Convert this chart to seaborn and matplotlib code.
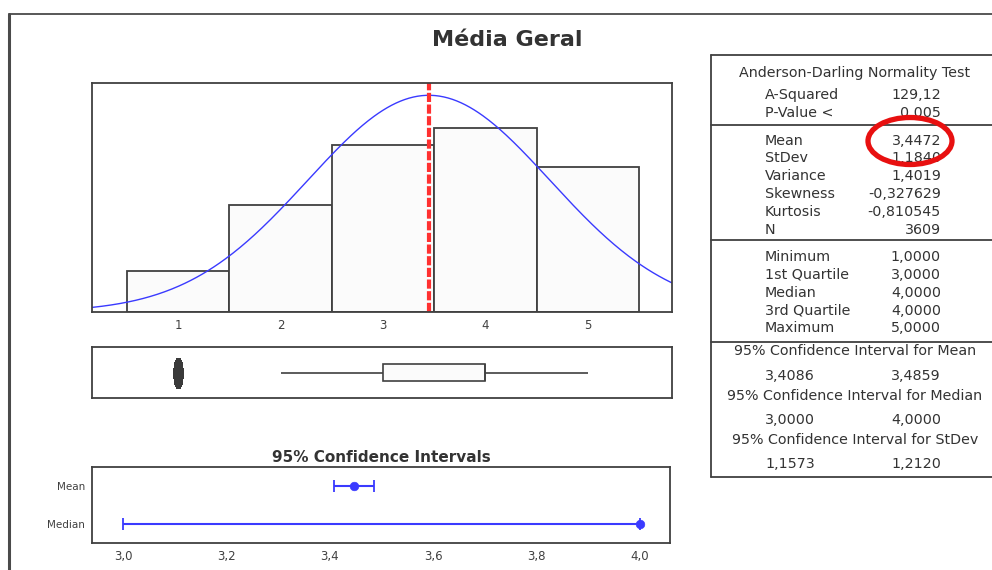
import numpy as np
import matplotlib
matplotlib.use("Agg")
import matplotlib.pyplot as plt
import seaborn as sns
from matplotlib.lines import Line2D
from matplotlib.patches import Ellipse
from matplotlib.path import Path

# ---------------- data ----------------
title = "Média Geral"
response_values = [1, 2, 3, 4, 5]
response_counts = [228, 598, 936, 1032, 815]
bin_edges = [0.5, 1.5, 2.5, 3.5, 4.5, 5.5]
hist_ticks = [1, 2, 3, 4, 5]
hist_tick_labels = ["1", "2", "3", "4", "5"]
mean_value = 3.4472
stdev_value = 1.1840
n_value = 3609

ci_title = "95% Confidence Intervals"
ci_labels = ["Mean", "Median"]
ci_centers = [3.4472, 4.0]
ci_lows = [3.4086, 3.0]
ci_highs = [3.4859, 4.0]
ci_ticks = [3.0, 3.2, 3.4, 3.6, 3.8, 4.0]
ci_tick_labels = ["3,0", "3,2", "3,4", "3,6", "3,8", "4,0"]

test_header = "Anderson-Darling Normality Test"
test_rows = [("A-Squared", "129,12"), ("P-Value <", "0,005")]
desc_rows = [("Mean", "3,4472"), ("StDev", "1,1840"), ("Variance", "1,4019"),
             ("Skewness", "-0,327629"), ("Kurtosis", "-0,810545"), ("N", "3609")]
quart_rows = [("Minimum", "1,0000"), ("1st Quartile", "3,0000"), ("Median", "4,0000"),
              ("3rd Quartile", "4,0000"), ("Maximum", "5,0000")]
ci_sections = [("95% Confidence Interval for Mean", "3,4086", "3,4859"),
               ("95% Confidence Interval for Median", "3,0000", "4,0000"),
               ("95% Confidence Interval for StDev", "1,1573", "1,2120")]

# ---------------- style ----------------
sns.set_theme(style="white")
plt.rcParams["font.family"] = ["DejaVu Sans"]
DARK = "#404040"
TXT = "#333333"
BLUE = "#3a3aff"

W, H = 992, 570
fig = plt.figure(figsize=(W / 100, H / 100), dpi=100)
fig.patch.set_facecolor("white")


def fx(px):
    return px / W


def fy(py):
    return 1 - py / H


def rect(l, t, r, b):
    return [l / W, 1 - b / H, (r - l) / W, (b - t) / H]


def style_axes(ax):
    for s in ax.spines.values():
        s.set_color(DARK)
        s.set_linewidth(1.3)
        s.set_visible(True)
    ax.tick_params(axis="both", direction="out", length=3, width=1,
                   color=DARK, labelcolor=DARK, labelsize=8.5, pad=2)
    ax.set_facecolor("white")


# ---------------- histogram ----------------
xlo, xhi = 0.16, 5.82
ax = fig.add_axes(rect(92, 83, 672, 312))
sns.histplot(x=response_values, weights=response_counts, bins=bin_edges, ax=ax,
             color="#fbfbfb", edgecolor=DARK, linewidth=1.3, alpha=1)
xs = np.linspace(xlo, xhi, 400)
ys = n_value * 1.0 / (stdev_value * np.sqrt(2 * np.pi)) * np.exp(-0.5 * ((xs - mean_value) / stdev_value) ** 2)
sns.lineplot(x=xs, y=ys, ax=ax, color=BLUE, linewidth=1.0)
ax.axvline(mean_value, color="#ff3030", linewidth=3.0, linestyle=(0, (2.2, 0.6)))
ax.set_xlim(xlo, xhi)
ax.set_ylim(0, 1285)
ax.set_xticks(hist_ticks)
ax.set_xticklabels(hist_tick_labels)
ax.set_yticks([])
ax.set_xlabel("")
ax.set_ylabel("")
style_axes(ax)

# ---------------- boxplot ----------------
axb = fig.add_axes(rect(92, 347, 672, 398))
data = np.repeat(response_values, response_counts)
t = np.linspace(0, 2 * np.pi, 60)
ell_marker = Path(np.column_stack([0.28 * np.cos(t), np.sin(t)]), closed=True)
sns.boxplot(x=data, ax=axb, width=0.33, color="#fbfbfb", linecolor=DARK, linewidth=1.2,
            showcaps=False,
            flierprops=dict(marker=ell_marker, markersize=21, markerfacecolor="#3a3a3a",
                            markeredgecolor="#3a3a3a"))
axb.set_xlim(xlo, xhi)
axb.set_ylim(0.5, -0.5)
axb.set_xticks([])
axb.set_yticks([])
axb.set_xlabel("")
style_axes(axb)

# ---------------- confidence intervals ----------------
axc = fig.add_axes(rect(92, 467, 670, 543))
ypos = list(range(len(ci_labels)))
xerr = [[c - l for c, l in zip(ci_centers, ci_lows)], [h - c for c, h in zip(ci_centers, ci_highs)]]
axc.errorbar(ci_centers, ypos, xerr=xerr, fmt="none", ecolor=BLUE, elinewidth=1.5,
             capsize=4, capthick=1.3)
sns.scatterplot(x=ci_centers, y=ypos, ax=axc, color=BLUE, s=38, edgecolor=BLUE, zorder=5)
axc.set_xlim(2.94, 4.058)
axc.set_ylim(1.5, -0.5)
axc.set_xticks(ci_ticks)
axc.set_xticklabels(ci_tick_labels)
axc.set_yticks(ypos)
axc.set_yticklabels(ci_labels)
axc.set_xlabel("")
axc.set_ylabel("")
style_axes(axc)
axc.tick_params(axis="y", labelsize=7.5)
fig.text(fx(381), fy(457), ci_title, ha="center", va="center", fontsize=11,
         fontweight="bold", color=TXT)

# ---------------- title ----------------
fig.text(fx(507), fy(40), title, ha="center", va="center", fontsize=16,
         fontweight="bold", color=TXT)

# ---------------- outer frame ----------------
fig.add_artist(Line2D([fx(9), fx(9)], [fy(14), fy(570)], color="#4a4a4a", linewidth=2.2))
fig.add_artist(Line2D([fx(9), fx(992)], [fy(14), fy(14)], color="#4a4a4a", linewidth=1.3))

# ---------------- stats table ----------------
tl, tr = 711, 992
fig.add_artist(Line2D([fx(tl), fx(tl)], [fy(55), fy(477)], color=DARK, linewidth=1.3))
for yy in [55, 125, 240, 342, 477]:
    fig.add_artist(Line2D([fx(tl), fx(tr)], [fy(yy), fy(yy)], color=DARK, linewidth=1.3))

FS = 10.3
cx = 855
lab_x, val_x = 765, 941
fig.text(fx(cx), fy(73), test_header, ha="center", va="center", fontsize=FS, color=TXT)
for (lab, val), yy in zip(test_rows, [95, 113]):
    fig.text(fx(lab_x), fy(yy), lab, ha="left", va="center", fontsize=FS, color=TXT)
    fig.text(fx(val_x), fy(yy), val, ha="right", va="center", fontsize=FS, color=TXT)
for (lab, val), yy in zip(desc_rows, [141, 158, 176, 194, 212, 230]):
    fig.text(fx(lab_x), fy(yy), lab, ha="left", va="center", fontsize=FS, color=TXT)
    fig.text(fx(val_x), fy(yy), val, ha="right", va="center", fontsize=FS, color=TXT)
for (lab, val), yy in zip(quart_rows, [257, 275, 293, 311, 328]):
    fig.text(fx(lab_x), fy(yy), lab, ha="left", va="center", fontsize=FS, color=TXT)
    fig.text(fx(val_x), fy(yy), val, ha="right", va="center", fontsize=FS, color=TXT)
for (head, lo, hi), yh, yv in zip(ci_sections, [351, 396, 440], [376, 420, 464]):
    fig.text(fx(cx), fy(yh), head, ha="center", va="center", fontsize=FS, color=TXT)
    fig.text(fx(lab_x), fy(yv), lo, ha="left", va="center", fontsize=FS, color=TXT)
    fig.text(fx(val_x), fy(yv), hi, ha="right", va="center", fontsize=FS, color=TXT)

# red highlight ellipse around the mean value
fig.add_artist(Ellipse((fx(910), fy(141)), width=84 / W, height=47 / H,
                       transform=fig.transFigure, fill=False, edgecolor="#e81010",
                       linewidth=3.8, zorder=10))

fig.savefig("out.png", dpi=100)
